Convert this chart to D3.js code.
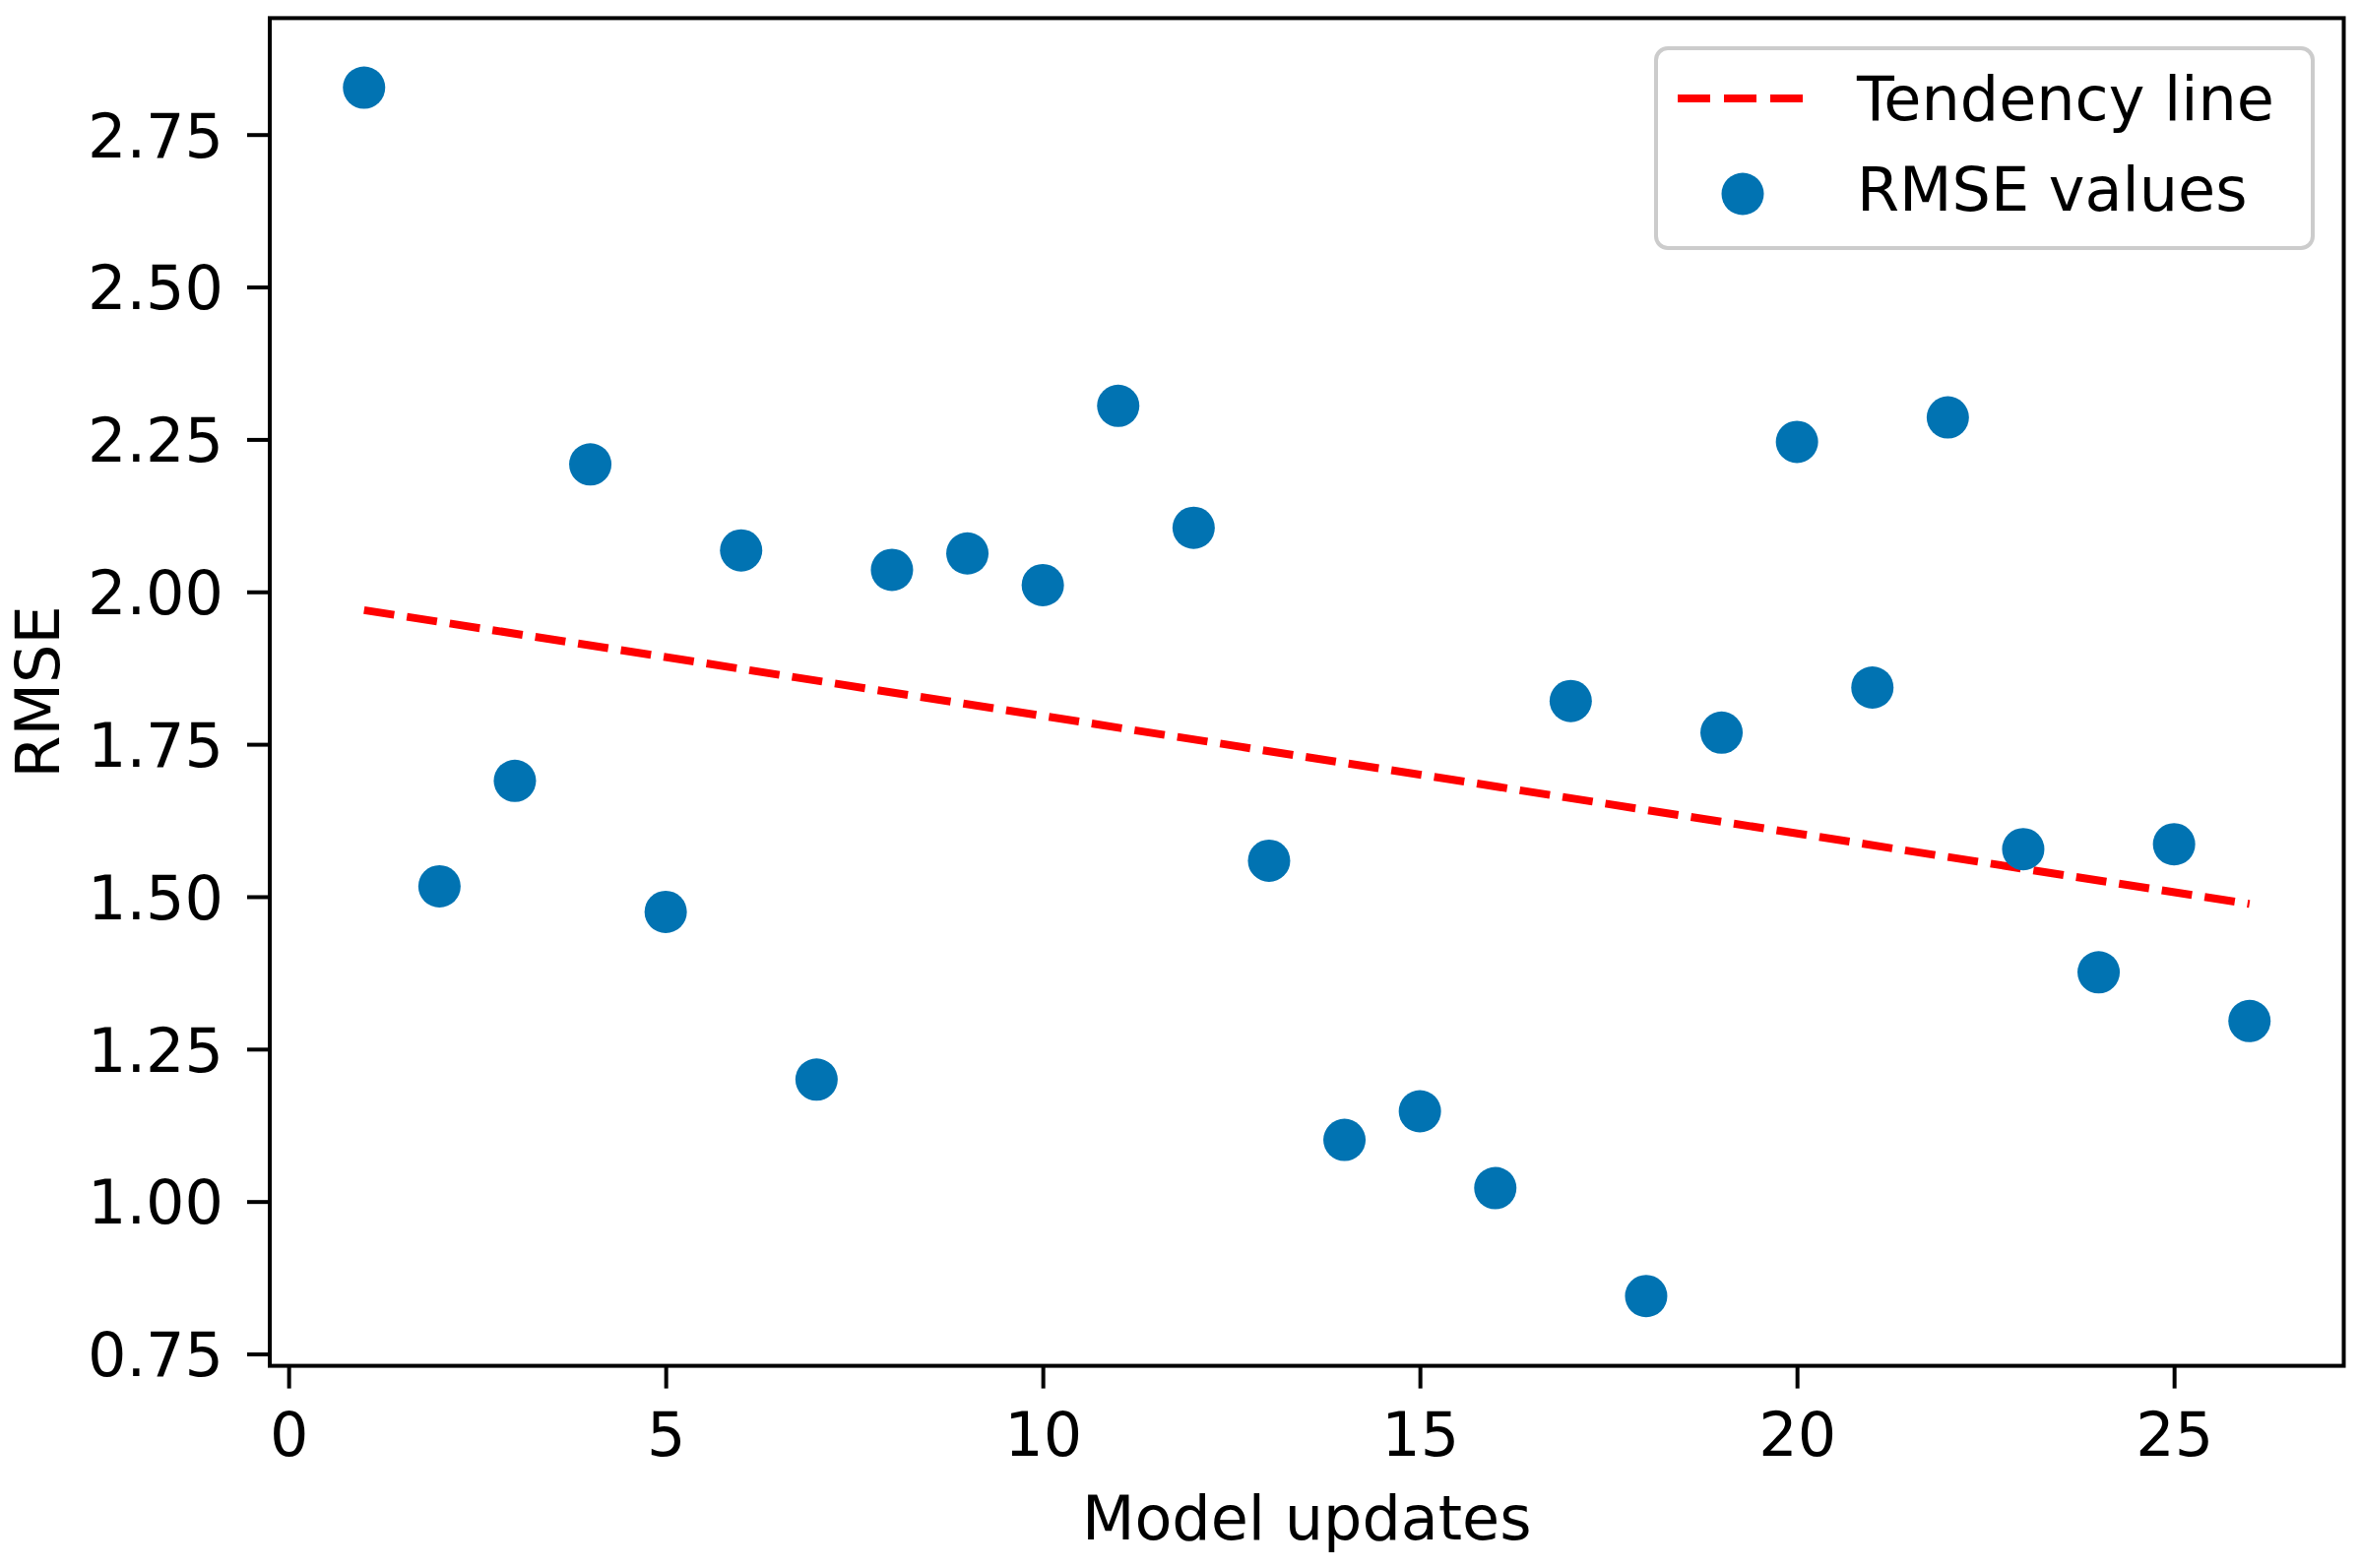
<!DOCTYPE html>
<html>
<head>
<meta charset="utf-8">
<script src="https://cdn.jsdelivr.net/npm/d3@7"></script>
<style>
  html, body { margin: 0; padding: 0; background: #ffffff; }
  svg { display: block; }
  text { font-family: "DejaVu Sans", sans-serif; fill: #000; }
</style>
</head>
<body>
<svg id="chart" width="2397" height="1593"></svg>
<script>
// ---- data ----
const updates = [1,2,3,4,5,6,7,8,9,10,11,12,13,14,15,16,17,18,19,20,21,22,23,24,25,26];
const rmse = [2.827,1.517,1.690,2.209,1.475,2.068,1.200,2.036,2.063,2.011,2.305,2.105,1.559,
              1.101,1.148,1.022,1.821,0.845,1.769,2.246,1.843,2.286,1.578,1.376,1.586,1.296];
const trendX = [1, 26];
const trendY = [1.970, 1.488];
const xTicks = [0, 5, 10, 15, 20, 25];
const yTicks = [0.75, 1.00, 1.25, 1.50, 1.75, 2.00, 2.25, 2.50, 2.75];
const legendLabels = ["Tendency line", "RMSE values"];

// ---- layout ----
const L = 274, R = 2380.5, T = 18.4, B = 1387.6;
const fontSize = 62;
const blue = "#0173b2";
const red = "#ff0000";

const svg = d3.select("#chart");
const x = d3.scaleLinear().domain([-0.25, 27.25]).range([L, R]);
const y = d3.scaleLinear().domain([0.7305, 2.941]).range([B, T]);

// trend line
const pts = trendX.map((d, i) => [d, trendY[i]]);
svg.append("path")
  .attr("d", d3.line().x(d => x(d[0])).y(d => y(d[1]))(pts))
  .attr("fill", "none")
  .attr("stroke", red)
  .attr("stroke-width", 8)
  .attr("stroke-dasharray", "31,13");

// scatter
svg.append("g").selectAll("circle")
  .data(updates.map((u, i) => ({u, v: rmse[i]})))
  .join("circle")
  .attr("cx", d => x(d.u))
  .attr("cy", d => y(d.v))
  .attr("r", 21.5)
  .attr("fill", blue);

// axes
const xAxis = d3.axisBottom(x).tickValues(xTicks).tickFormat(d3.format("d"))
  .tickSize(23).tickPadding(24).tickSizeOuter(0);
const yAxis = d3.axisLeft(y).tickValues(yTicks).tickFormat(d3.format(".2f"))
  .tickSize(23).tickPadding(24).tickSizeOuter(0);

const gx = svg.append("g").attr("transform", `translate(0,${B})`).call(xAxis);
const gy = svg.append("g").attr("transform", `translate(${L},0)`).call(yAxis);
[gx, gy].forEach(g => {
  g.select(".domain").remove();
  g.selectAll(".tick line").attr("stroke", "#000").attr("stroke-width", 4);
  g.selectAll(".tick text").attr("font-size", fontSize)
    .attr("font-family", "DejaVu Sans").attr("fill", "#000");
});
gy.selectAll(".tick text").attr("dy", "0.36em");

// frame (spines)
svg.append("rect")
  .attr("x", L).attr("y", T).attr("width", R - L).attr("height", B - T)
  .attr("fill", "none").attr("stroke", "#000").attr("stroke-width", 4);

// axis labels
svg.append("text")
  .attr("x", (L + R) / 2).attr("y", 1564)
  .attr("text-anchor", "middle").attr("font-size", fontSize)
  .text("Model updates");
svg.append("text")
  .attr("transform", `translate(60,${(T + B) / 2}) rotate(-90)`)
  .attr("text-anchor", "middle").attr("font-size", fontSize)
  .text("RMSE");

// legend
const lg = svg.append("g");
lg.append("rect")
  .attr("x", 1682).attr("y", 49).attr("width", 667).attr("height", 203)
  .attr("rx", 12).attr("ry", 12)
  .attr("fill", "#ffffff").attr("fill-opacity", 0.8)
  .attr("stroke", "#cccccc").attr("stroke-width", 4);
lg.append("line")
  .attr("x1", 1704).attr("x2", 1831).attr("y1", 100).attr("y2", 100)
  .attr("stroke", red).attr("stroke-width", 8).attr("stroke-dasharray", "33,14");
lg.append("circle").attr("cx", 1770).attr("cy", 197).attr("r", 21.5).attr("fill", blue);
lg.append("text").attr("x", 1886).attr("y", 122).attr("font-size", fontSize).text(legendLabels[0]);
lg.append("text").attr("x", 1886).attr("y", 214).attr("font-size", fontSize).text(legendLabels[1]);
</script>
</body>
</html>
